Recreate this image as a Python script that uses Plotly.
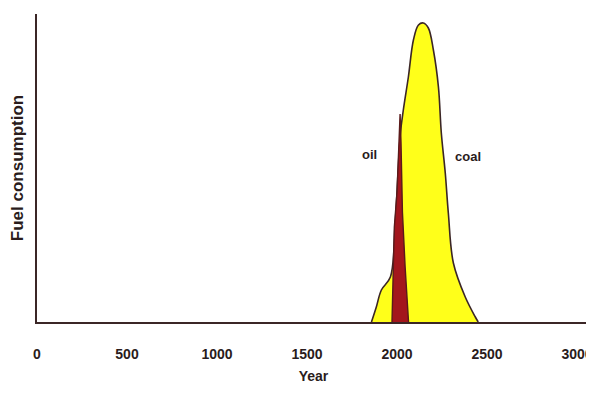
import plotly.graph_objects as go

# Coal consumption curve (year, relative consumption)
coal_years = [1858, 1885, 1913, 1963, 1990, 2019, 2035, 2063, 2091, 2119, 2146, 2174,
              2202, 2230, 2246, 2268, 2285, 2313, 2379, 2435, 2451]
coal_values = [0, 15, 32, 45, 100, 189, 212, 245, 282, 297, 299, 294,
               272, 235, 189, 149, 109, 59, 25, 5, 0]

# Oil consumption spike
oil_years = [1972, 1978, 1985, 2000, 2011, 2017, 2022, 2030, 2045, 2058, 2064]
oil_values = [0, 40, 95, 130, 192, 208, 180, 110, 55, 12, 0]

tick_vals = [0, 500, 1000, 1500, 2000, 2500, 3000]
tick_text = ["0", "500", "1000", "1500", "2000", "2500", "3000"]

outline = "#3b2626"
txt = "#2a1c1c"
fnt = "Liberation Sans"

fig = go.Figure()
fig.add_trace(go.Scatter(
    x=coal_years, y=coal_values, mode="lines", fill="tozeroy",
    fillcolor="#ffff1a", line=dict(color=outline, width=1.6, shape="spline"),
    hoverinfo="skip", showlegend=False))
fig.add_trace(go.Scatter(
    x=oil_years, y=oil_values, mode="lines", fill="tozeroy",
    fillcolor="#a3161c", line=dict(color="#5a1a1a", width=1.4),
    hoverinfo="skip", showlegend=False))

fig.add_annotation(x=1845, y=168, text="<b>oil</b>", showarrow=False,
                   font=dict(family=fnt, size=13, color=txt))
fig.add_annotation(x=2395, y=166, text="<b>coal</b>", showarrow=False,
                   font=dict(family=fnt, size=13, color=txt))

# The page body adds an 8px offset, so the figure is sized to fit the window
fig.update_layout(
    width=586, height=393,
    margin=dict(l=29, r=4, t=6, b=79),
    paper_bgcolor="white", plot_bgcolor="white",
    font=dict(family=fnt, size=13, color=txt),
    xaxis=dict(range=[0, 3072], tickvals=tick_vals, ticktext=tick_text,
               automargin=False,
               showgrid=False, zeroline=False, showline=True,
               linecolor=outline, linewidth=2, ticks="", ticklabelstandoff=18,
               tickfont=dict(family=fnt, size=14, color=txt, weight="bold"),
               title=dict(text="Year", standoff=10,
                          font=dict(family=fnt, size=14, color=txt, weight="bold"))),
    yaxis=dict(range=[0, 308], showticklabels=False, showgrid=False,
               automargin=False,
               zeroline=False, showline=True, linecolor=outline, linewidth=2,
               ticks="",
               title=dict(text="Fuel consumption", standoff=8,
                          font=dict(family=fnt, size=17, color=txt, weight="bold"))),
)

fig.write_html("out.html")
